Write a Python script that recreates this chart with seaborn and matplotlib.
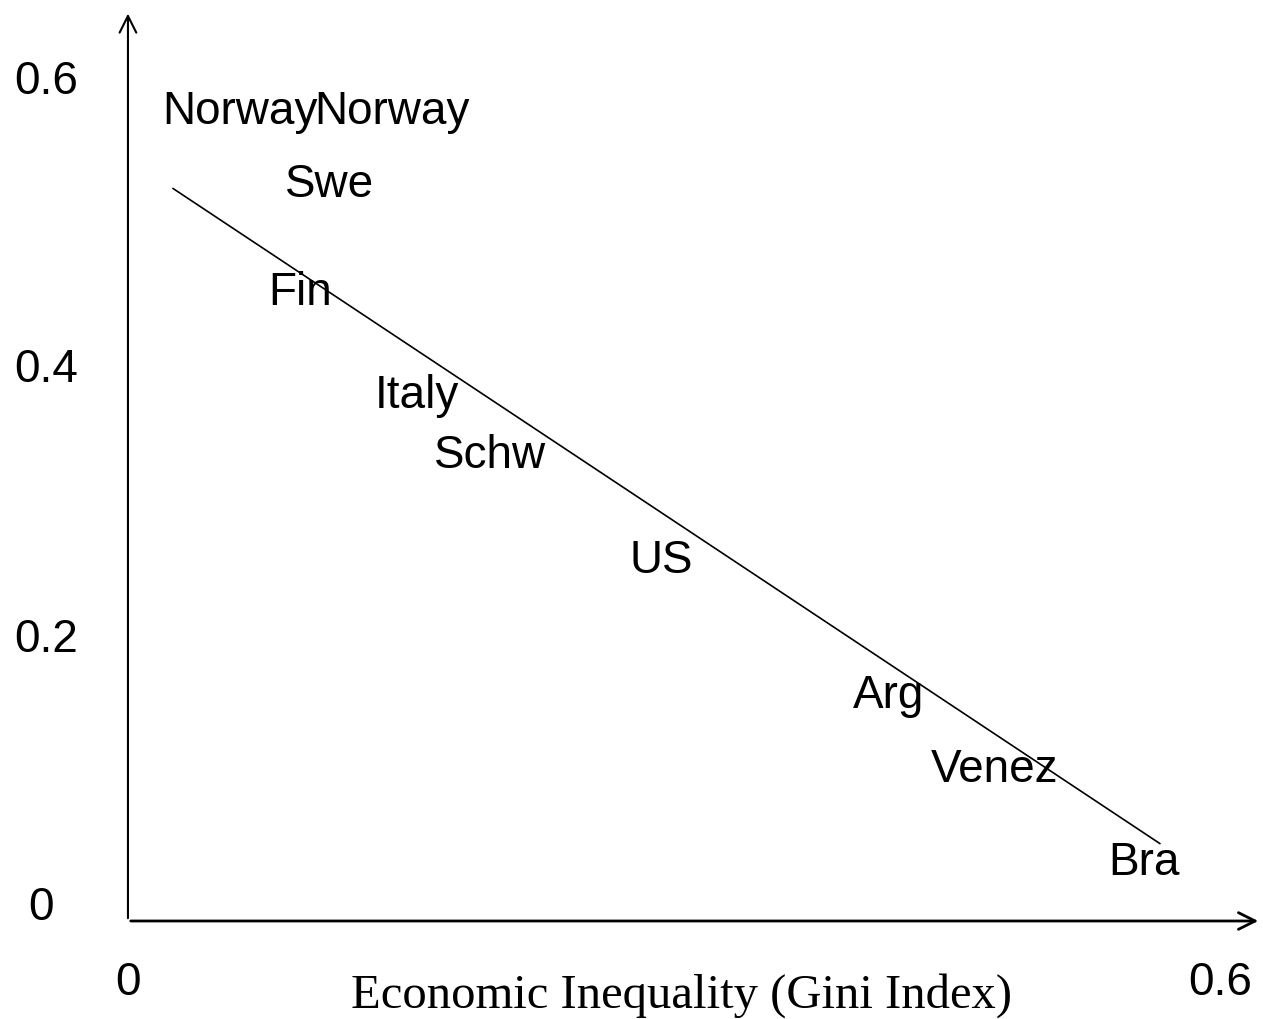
import numpy as np
import matplotlib
matplotlib.use("Agg")
import matplotlib.pyplot as plt
import seaborn as sns

# label positions (gini, y-value)
countries = ["Norway", "Norway", "Swe", "Fin", "Italy", "Schw", "US", "Arg", "Venez", "Bra"]
gini = [0.0615, 0.145, 0.111, 0.0945, 0.159, 0.199, 0.293, 0.418, 0.476, 0.558]
yval = [0.578, 0.578, 0.525, 0.447, 0.372, 0.328, 0.252, 0.154, 0.100, 0.033]

# fitted trend line end points
line_x = [0.0247, 0.567]
line_y = [0.522, 0.046]

ytick_vals = [0.6, 0.4, 0.2, 0]
ytick_pos = [0.600, 0.391, 0.195, 0.0]
xtick_vals = [0, 0.6]

sns.set_style("white")
plt.rcParams['font.family'] = ['Liberation Sans', 'DejaVu Sans']
plt.rcParams['text.color'] = 'black'

fig = plt.figure(figsize=(12.63, 10.2), dpi=100)
ax = fig.add_axes([0, 0, 1, 1])
ax.set_xlim(-0.0703, 0.6236)
ax.set_ylim(-0.0814, 0.6596)
ax.axis('off')

sns.lineplot(x=line_x, y=line_y, ax=ax, color='black', linewidth=1.2)

for name, x, y in zip(countries, gini, yval):
    ax.text(x, y, name, fontsize=33, ha='center', va='center', color='black')

# axes drawn as arrows
ax.annotate('', xy=(0.6225, -0.0102), xytext=(0, -0.0102),
            arrowprops=dict(arrowstyle='->', color='black', lw=2, mutation_scale=30))
ax.annotate('', xy=(0, 0.651), xytext=(0, -0.0102),
            arrowprops=dict(arrowstyle='->', color='black', lw=1.5, mutation_scale=30))

ypx = [-0.045, -0.045, -0.045, -0.048]
for v, p, xp in zip(ytick_vals, ytick_pos, ypx):
    ax.text(xp, p, str(v), fontsize=33, ha='center', va='center', color='black')
for v in xtick_vals:
    ax.text(v, -0.0544, str(v), fontsize=33, ha='center', va='center', color='black')

ax.text(0.304, -0.0635, 'Economic Inequality (Gini Index)', fontsize=35,
        ha='center', va='center', family=['Liberation Serif'], color='black')

fig.savefig('out.png', dpi=100)
